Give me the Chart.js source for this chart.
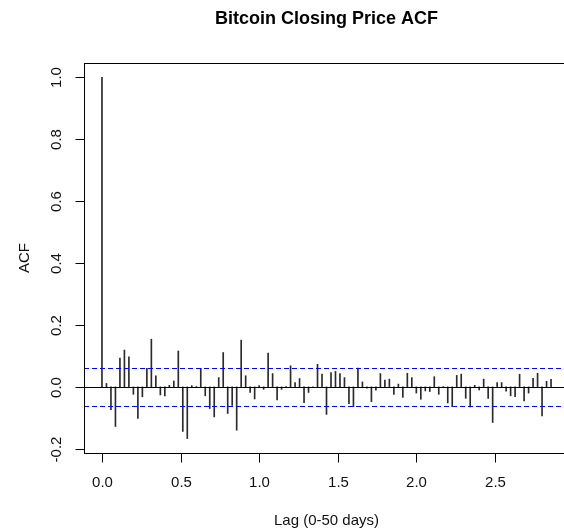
<!DOCTYPE html>
<html>
<head>
<meta charset="utf-8">
<script src="https://cdn.jsdelivr.net/npm/chart.js@4.4.0/dist/chart.umd.min.js"></script>
<style>
  html, body { margin: 0; padding: 0; background: #fff; overflow: hidden; }
  #wrap { width: 564px; height: 531px; overflow: hidden; }
</style>
</head>
<body>
<div id="wrap"><canvas id="acfChart" width="575" height="531"></canvas></div>
<script>
// ACF values, lag 0..100 (lags shown in units of 1/35)
var lagFrequency = 35;
var acfValues = [
    1.000, 0.011, -0.074, -0.128, 0.093, 0.119, 0.097, -0.024, -0.102, -0.032,
    0.060, 0.154, 0.036, -0.026, -0.029, 0.005, 0.019, 0.116, -0.144, -0.167,
    0.004, 0.001, 0.060, -0.029, -0.070, -0.097, 0.030, 0.111, -0.086, -0.060,
    -0.140, 0.151, 0.036, -0.018, -0.039, 0.004, -0.008, 0.109, 0.043, -0.042,
    -0.008, 0.001, 0.068, 0.014, 0.027, -0.051, -0.018, -0.002, 0.073, 0.041,
    -0.089, 0.046, 0.050, 0.043, 0.030, -0.054, -0.064, 0.061, 0.016, -0.004,
    -0.048, -0.011, 0.043, 0.022, 0.025, -0.024, 0.009, -0.034, 0.044, 0.030,
    -0.020, -0.040, -0.013, -0.015, 0.033, -0.024, 0.001, -0.052, -0.064, 0.037,
    0.041, -0.037, -0.065, 0.005, -0.010, 0.025, -0.037, -0.115, 0.014, 0.014,
    -0.014, -0.029, -0.032, 0.041, -0.045, -0.020, 0.028, 0.044, -0.094, 0.018,
    0.024
];
var ciBound = 0.0603; // 95% band

var xTicks = [0, 0.5, 1, 1.5, 2, 2.5];
var xTickLabels = ['0.0', '0.5', '1.0', '1.5', '2.0', '2.5'];
var yTicks = [-0.2, 0, 0.2, 0.4, 0.6, 0.8, 1.0];
var yTickLabels = ['-0.2', '0.0', '0.2', '0.4', '0.6', '0.8', '1.0'];

var titleText = 'Bitcoin Closing Price ACF';
var xLabelText = 'Lag (0-50 days)';
var yLabelText = 'ACF';

var lags = acfValues.map(function(v, i) { return i / lagFrequency; });

// R style axis limits (4% extension)
var maxLag = lags[lags.length - 1];
var xMin = -0.04 * maxLag, xMax = 1.04 * maxLag;
var yLo = Math.min(Math.min.apply(null, acfValues), -ciBound);
var yHi = Math.max(Math.max.apply(null, acfValues), ciBound);
var yPad = 0.04 * (yHi - yLo);
var yMin = yLo - yPad, yMax = yHi + yPad;

var FONT = "'Liberation Sans', Arial, sans-serif";

// zero line + dashed confidence band, placed with the y scale
var refLines = {
    id: 'refLines',
    afterDatasetsDraw: function(chart) {
        var ctx = chart.ctx;
        var a = chart.chartArea;
        var ys = chart.scales.y;
        ctx.save();
        ctx.beginPath();
        ctx.rect(a.left, a.top, a.right - a.left, a.bottom - a.top);
        ctx.clip();
        ctx.lineWidth = 1;

        ctx.strokeStyle = '#000';
        ctx.setLineDash([]);
        var y0 = Math.round(ys.getPixelForValue(0)) + 0.5;
        ctx.beginPath();
        ctx.moveTo(a.left, y0);
        ctx.lineTo(a.right, y0);
        ctx.stroke();

        ctx.strokeStyle = 'rgb(0, 0, 255)';
        ctx.setLineDash([5, 3]);
        [ciBound, -ciBound].forEach(function(v) {
            var py = Math.round(ys.getPixelForValue(v)) + 0.5;
            ctx.beginPath();
            ctx.moveTo(a.left, py);
            ctx.lineTo(a.right, py);
            ctx.stroke();
        });
        ctx.restore();
    }
};

// draws the R-like frame, ticks and labels
var rFrame = {
    id: 'rFrame',
    afterDraw: function(chart) {
        var ctx = chart.ctx;
        var a = chart.chartArea;
        var xs = chart.scales.x, ys = chart.scales.y;
        var tick = 9;
        ctx.save();
        ctx.setLineDash([]);
        ctx.strokeStyle = '#000';
        ctx.lineWidth = 1;
        var L = Math.round(a.left) + 0.5, T = Math.round(a.top) + 0.5;
        var R = Math.round(a.right) + 0.5, B = Math.round(a.bottom) + 0.5;
        ctx.strokeRect(L, T, R - L, B - T);

        ctx.fillStyle = '#111';
        ctx.font = '15px ' + FONT;
        ctx.textAlign = 'center';
        ctx.textBaseline = 'middle';
        ctx.beginPath();
        xTicks.forEach(function(t, i) {
            var px = Math.round(xs.getPixelForValue(t)) + 0.5;
            ctx.moveTo(px, B);
            ctx.lineTo(px, B + tick);
            ctx.fillText(xTickLabels[i], px, 483);
        });
        yTicks.forEach(function(t, i) {
            var py = Math.round(ys.getPixelForValue(t)) + 0.5;
            ctx.moveTo(L, py);
            ctx.lineTo(L - tick, py);
            ctx.save();
            ctx.translate(57, py);
            ctx.rotate(-Math.PI / 2);
            ctx.fillText(yTickLabels[i], 0, 0);
            ctx.restore();
        });
        ctx.stroke();

        ctx.fillText(xLabelText, (a.left + a.right) / 2, 521);
        ctx.save();
        ctx.translate(25, (a.top + a.bottom) / 2);
        ctx.rotate(-Math.PI / 2);
        ctx.fillText(yLabelText, 0, 0);
        ctx.restore();

        ctx.fillStyle = '#000';
        ctx.font = 'bold 18px ' + FONT;
        ctx.fillText(titleText, (a.left + a.right) / 2, 19);
        ctx.restore();
    }
};

var ctx = document.getElementById('acfChart').getContext('2d');
var acfChart = new Chart(ctx, {
    type: 'bar',
    data: {
        datasets: [{
            label: 'ACF',
            data: lags.map(function(l, i) { return { x: l, y: acfValues[i] }; }),
            backgroundColor: '#2a2a2a',
            barThickness: 1
        }]
    },
    options: {
        responsive: false,
        animation: false,
        layout: { padding: { left: 84, top: 63, right: 6, bottom: 78 } },
        plugins: {
            legend: { display: false },
            tooltip: { enabled: false }
        },
        scales: {
            x: { type: 'linear', min: xMin, max: xMax, display: false, offset: false },
            y: { type: 'linear', min: yMin, max: yMax, display: false }
        }
    },
    plugins: [refLines, rFrame]
});
</script>
</body>
</html>
